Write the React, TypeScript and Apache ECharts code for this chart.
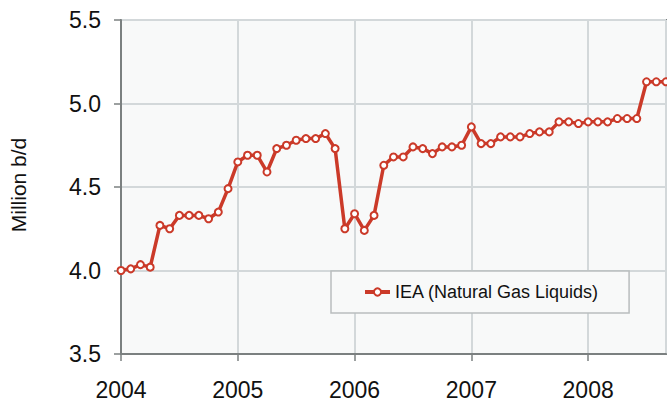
import React, { useEffect, useRef } from "react";
import * as echarts from "echarts";

const startYear = 2004;
const yearTicks = ["2004", "2005", "2006", "2007", "2008"];
const seriesName = "IEA (Natural Gas Liquids)";
const yTickValues = [3.5, 4.0, 4.5, 5.0, 5.5];
// Monthly values Jan 2004 .. Sep 2008 (million b/d)
const ngl = [
  4.0, 4.01, 4.035, 4.02, 4.27, 4.25, 4.33, 4.33, 4.33, 4.31, 4.35, 4.49,
  4.65, 4.69, 4.69, 4.59, 4.73, 4.75, 4.78, 4.79, 4.79, 4.82, 4.73, 4.25,
  4.34, 4.24, 4.33, 4.63, 4.68, 4.68, 4.74, 4.73, 4.7, 4.74, 4.74, 4.75,
  4.86, 4.76, 4.76, 4.8, 4.8, 4.8, 4.82, 4.83, 4.83, 4.89, 4.89, 4.88,
  4.89, 4.89, 4.89, 4.91, 4.91, 4.91, 5.13, 5.13, 5.13,
];

export default function App() {
  const ref = useRef<HTMLDivElement>(null);
  useEffect(() => {
    if (!ref.current) return;
    const chart = echarts.init(ref.current, undefined, { renderer: "svg" });
    const font = "Liberation Sans, Arial, Helvetica, sans-serif";
    const red = "#cb3a29";
    const axisCol = "#7b8080";
    const gridCol = "#d3d8da";
    chart.setOption({
      animation: false,
      backgroundColor: "#ffffff",
      textStyle: { fontFamily: font },
      grid: {
        left: 121,
        right: 1,
        top: 20,
        bottom: 52,
        show: true,
        backgroundColor: "#f8f9f9",
        borderColor: axisCol,
        borderWidth: 2,
      },
      legend: {
        data: [seriesName],
        left: 331,
        top: 271,
        orient: "horizontal",
        backgroundColor: "#f8f9f9",
        borderColor: "#b9bdbe",
        borderWidth: 1.5,
        borderRadius: 0,
        padding: [11, 30, 11, 32],
        itemWidth: 25,
        itemHeight: 9,
        lineStyle: { width: 4 },
        textStyle: { fontSize: 18, color: "#111", fontFamily: font, lineHeight: 20 },
      },
      xAxis: {
        type: "value",
        min: 0,
        max: ngl.length - 1,
        interval: 12,
        axisLine: { show: true, lineStyle: { color: axisCol, width: 2 } },
        axisTick: { show: true, length: 7, lineStyle: { color: axisCol, width: 1.5 } },
        splitLine: { show: true, lineStyle: { color: gridCol, width: 2 } },
        axisLabel: {
          fontSize: 23,
          color: "#111",
          margin: 24,
          showMaxLabel: false,
          formatter: (v: number) => {
            if (v % 12 !== 0) return "";
            const i = v / 12;
            return yearTicks[i] ?? String(startYear + i);
          },
        },
      },
      yAxis: {
        type: "value",
        min: yTickValues[0],
        max: yTickValues[yTickValues.length - 1],
        interval: 0.5,
        axisLine: { show: true, lineStyle: { color: axisCol, width: 2 } },
        axisTick: { show: true, length: 7, lineStyle: { color: axisCol, width: 1.5 } },
        splitLine: { show: true, lineStyle: { color: gridCol, width: 2 } },
        axisLabel: {
          fontSize: 23,
          color: "#111",
          margin: 20,
          formatter: (v: number) => v.toFixed(1),
        },
      },
      graphic: [
        {
          type: "text",
          x: 18,
          y: 185,
          rotation: Math.PI / 2,
          style: {
            text: "Million b/d",
            fontSize: 21,
            fontFamily: font,
            fill: "#111",
            textAlign: "center",
            textVerticalAlign: "middle",
          },
        },
      ],
      series: [
        {
          name: seriesName,
          type: "line",
          data: ngl.map((v, i) => [i, v]),
          symbol: "emptyCircle",
          symbolSize: 7,
          showAllSymbol: true,
          lineStyle: { color: red, width: 3.5 },
          itemStyle: { color: red, borderWidth: 1.6 },
          clip: false,
        },
      ],
    });
    return () => chart.dispose();
  }, []);
  return (
    <div
      ref={ref}
      style={{ position: "fixed", left: 0, top: 0, width: 667, height: 406 }}
    />
  );
}
